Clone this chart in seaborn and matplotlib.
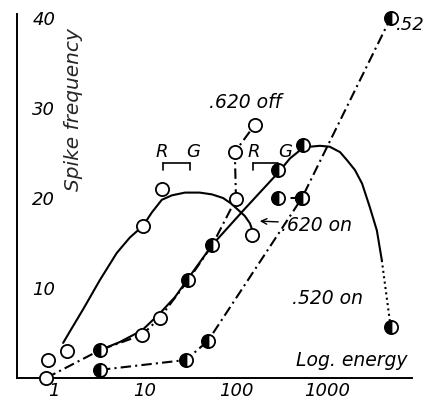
import numpy as np
import pandas as pd
import matplotlib
matplotlib.use("Agg")
import matplotlib.pyplot as plt
import seaborn as sns

# ---------------- data ----------------
x_tick_values = [1, 10, 100, 1000]
x_tick_labels = ["1", "10", "100", "1000"]
y_tick_values = [10, 20, 30, 40]
y_tick_labels = ["10", "20", "30", "40"]

# .620 on  (open circles, solid curve)
on620_x = [0.86, 1.4, 9.5, 15.4, 100, 150]
on620_y = [2.0, 3.0, 16.9, 21.0, 19.9, 15.9]
on620_curve_x = [1.26, 1.5, 2.08, 3.2, 4.9, 6.8, 9.5, 11.9, 15.3, 19.8, 27.5, 40,
                 54.5, 72, 88, 105, 125, 142, 154]
on620_curve_y = [3.9, 5.2, 7.6, 10.9, 13.9, 15.6, 16.9, 18.4, 19.8, 20.3, 20.6, 20.6,
                 20.4, 20.0, 19.4, 18.7, 18.0, 17.2, 16.2]

# .620 off (open circles, dash-dot line)
off620_line_x = [0.82, 3.2, 9.3, 14.6, 30, 55, 100, 97, 160]
off620_line_y = [0.0, 3.1, 4.8, 6.7, 10.9, 14.8, 19.9, 25.1, 28.1]
off620_x = [0.82, 9.3, 14.6, 97, 160]
off620_y = [0.0, 4.8, 6.7, 25.1, 28.1]

# .520 on  (half-filled circles, solid curve + dotted drop)
on520_x = [3.2, 30, 55, 290, 550, 5000]
on520_y = [3.1, 10.9, 14.8, 23.1, 25.9, 5.7]
on520_curve_x = [3.2, 5.3, 9.3, 14.6, 21.4, 30, 55, 125, 290, 392, 505, 650, 838,
                 1070, 1390, 1660, 2030, 2430, 2950, 3530, 4000]
on520_curve_y = [3.1, 4.0, 5.3, 7.2, 9.0, 11.1, 14.8, 18.8, 22.8, 24.4, 25.3, 25.7,
                 25.8, 25.7, 25.1, 24.2, 23.1, 21.6, 19.0, 16.4, 13.1]
on520_drop_x = [4000, 5000]
on520_drop_y = [13.1, 5.7]

# .520 off (half-filled circles, dash-dot line)
off520_x = [3.2, 28, 49, 530, 5000]
off520_y = [0.9, 2.0, 4.1, 20.0, 40.0]
pair520_x = [290, 530]
pair520_y = [20.0, 20.0]

# ---------------- figure ----------------
sns.set_style("white")
plt.rcParams["font.family"] = ["DejaVu Sans"]
DPI = 100
W, H = 430, 404
fig = plt.figure(figsize=(W / DPI, H / DPI), dpi=DPI)

# axes box in pixels: left 17, right 430, top 14, bottom 378
L, R, T, B = 17, 430, 14, 378
ax = fig.add_axes([L / W, 1 - B / H, (R - L) / W, (B - T) / H])
ax.set_xscale("log")

def px2x(px):
    return 10 ** ((px - 145) / 91 + 1)

ax.set_xlim(px2x(L), px2x(R))
ax.set_ylim(0, (B - T) / 9.0)

lw = 1.5
dashdot = (0, (5, 2, 1, 2))

def line(x, y, ls="-"):
    sns.lineplot(x=x, y=y, ax=ax, sort=False, estimator=None, color="black",
                 lw=lw, linestyle=ls, zorder=2)

def marks(x, y, half=False):
    kw = dict(marker="o", markersize=9.5, markeredgecolor="black",
              markeredgewidth=1.3, linestyle="none", zorder=4, clip_on=False)
    if half:
        kw.update(markerfacecolor="black", fillstyle="left",
                  markerfacecoloralt="white")
    else:
        kw.update(markerfacecolor="white")
    sns.lineplot(x=x, y=y, ax=ax, sort=False, estimator=None, color="black", **kw)

line(on620_curve_x, on620_curve_y)
line(off620_line_x, off620_line_y, dashdot)
line(on520_curve_x, on520_curve_y)
line(on520_drop_x, on520_drop_y, (0, (1, 1.6)))
line(off520_x, off520_y, dashdot)
line(pair520_x, pair520_y, (0, (3, 3)))

marks(on620_x, on620_y)
marks(off620_x, off620_y)
marks(on520_x, on520_y, half=True)
marks(off520_x, off520_y, half=True)
marks(pair520_x, pair520_y, half=True)

# ---------------- axes styling ----------------
for s in ["top", "right"]:
    ax.spines[s].set_visible(False)
for s in ["left", "bottom"]:
    ax.spines[s].set_linewidth(1.4)
    ax.spines[s].set_color("black")
ax.spines["bottom"].set_bounds(px2x(L), px2x(412))

font = dict(style="italic", fontsize=13, color="black")

ax.set_yticks(y_tick_values)
ax.set_yticklabels(y_tick_labels, **font)
ax.tick_params(axis="y", direction="in", length=5, width=1.3, pad=-11)
for t in ax.get_yticklabels():
    t.set_horizontalalignment("left")

ax.set_xticks(x_tick_values)
ax.set_xticklabels(x_tick_labels, **font)
ax.xaxis.set_minor_locator(matplotlib.ticker.NullLocator())
ax.tick_params(axis="x", direction="in", length=7, width=1.2, pad=3)

ax.set_xlabel("")
ax.set_ylabel("Spike frequency", fontsize=14.5, style="italic")
ax.yaxis.set_label_coords((83 - L) / (R - L), (B - 110) / (B - T))

# ---------------- annotations ----------------
def tx(px, py, s, fs=13.5, **k):
    f = dict(font)
    f["fontsize"] = fs
    ax.text(px2x(px), (B - py) / 9.0, s, va="center", ha="left", **f, **k)

tx(209, 103, ".620 off")
tx(281, 225, ".620 on")
tx(292, 298, ".520 on")
tx(296, 361, "Log. energy")
tx(396, 25, ".52", fs=13)

ax.annotate("", xy=(px2x(257), (B - 221) / 9.0), xytext=(px2x(281), (B - 222) / 9.0),
            arrowprops=dict(arrowstyle="->", color="black", lw=1.0))

# R G brackets
for (rx, gx, b0, b1, legs) in [(163, 193, 163, 190, (163, 190)), (255, 285, 253, 278, (253,))]:
    tx(rx - 7, 152, "R", fs=13)
    tx(gx - 7, 152, "G", fs=13)
    ax.plot([px2x(b0), px2x(b1)], [(B - 163) / 9.0] * 2, color="black", lw=1.2)
    for lx in legs:
        ax.plot([px2x(lx), px2x(lx)], [(B - 163) / 9.0, (B - 170) / 9.0], color="black", lw=1.2)

fig.savefig("out.png", dpi=DPI)
